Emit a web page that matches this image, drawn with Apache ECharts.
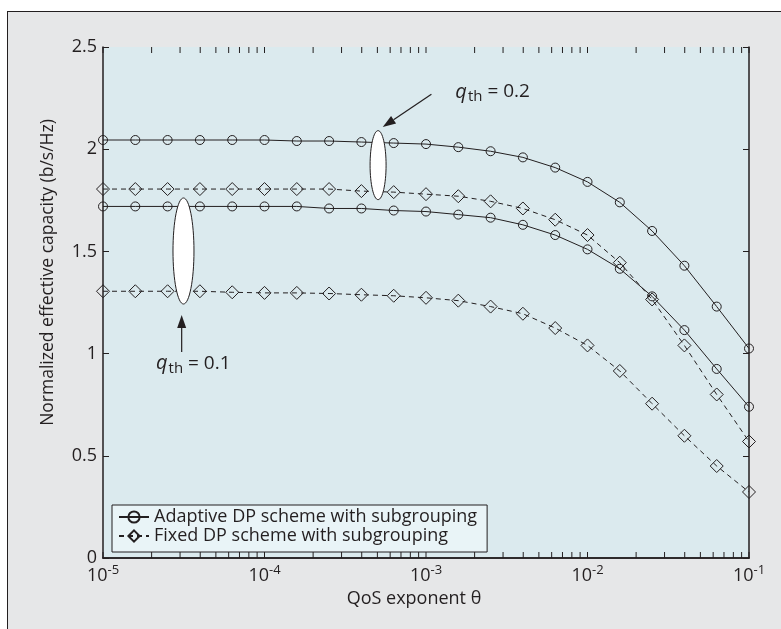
<!DOCTYPE html>
<html>
<head>
<meta charset="utf-8">
<script src="https://cdn.jsdelivr.net/npm/echarts@6/dist/echarts.min.js"></script>
<style>
html, body { margin: 0; padding: 0; background: #fff; }
#frame { position: absolute; left: 7px; top: 11px; width: 800px; height: 640px;
         background: #e6e7e8; border-left: 1px solid #231f20; border-top: 1px solid #231f20; }
#chart { position: absolute; left: 0; top: 0; width: 781px; height: 629px; }
</style>
</head>
<body>
<div id="frame"></div>
<div id="chart"></div>
<script>
// QoS exponent theta, 5 points per decade
var theta = [1e-5, 1.585e-5, 2.512e-5, 3.981e-5, 6.310e-5,
             1e-4, 1.585e-4, 2.512e-4, 3.981e-4, 6.310e-4,
             1e-3, 1.585e-3, 2.512e-3, 3.981e-3, 6.310e-3,
             1e-2, 1.585e-2, 2.512e-2, 3.981e-2, 6.310e-2,
             1e-1];

var adaptive02 = [2.045, 2.045, 2.045, 2.045, 2.045, 2.045, 2.04, 2.04, 2.035, 2.03, 2.025,
                  2.01, 1.99, 1.96, 1.91, 1.84, 1.74, 1.60, 1.43, 1.23, 1.025];
var adaptive01 = [1.72, 1.72, 1.72, 1.72, 1.72, 1.72, 1.72, 1.71, 1.71, 1.70, 1.695,
                  1.68, 1.665, 1.63, 1.58, 1.51, 1.415, 1.28, 1.115, 0.925, 0.74];
var fixed02 = [1.805, 1.805, 1.805, 1.805, 1.805, 1.805, 1.805, 1.805, 1.795, 1.79, 1.78,
               1.77, 1.745, 1.71, 1.655, 1.58, 1.445, 1.265, 1.04, 0.80, 0.57];
var fixed01 = [1.305, 1.305, 1.305, 1.305, 1.30, 1.297, 1.297, 1.294, 1.288, 1.283, 1.273,
               1.259, 1.23, 1.195, 1.125, 1.04, 0.915, 0.755, 0.598, 0.45, 0.323];

var nameAdaptive = 'Adaptive DP scheme with subgrouping';
var nameFixed = 'Fixed DP scheme with subgrouping';

// log tick positions (majors + minors)
var decades = [-5, -4, -3, -2];
var mantissas = [1, 2, 3, 4, 5, 6, 7, 8, 9];
var xTicks = [];
decades.forEach(function (d) {
    mantissas.forEach(function (m) { xTicks.push([m * Math.pow(10, d), 0]); });
});
xTicks.push([0.1, 0]);

var ink = '#231f20';
var font = 'Open Sans';

function pairs(ys) {
    return theta.map(function (x, i) { return [x, ys[i]]; });
}

function lineSeries(name, ys, dashed) {
    return {
        name: name,
        type: 'line',
        data: pairs(ys),
        symbol: dashed ? 'diamond' : 'circle',
        symbolSize: dashed ? 13 : 9,
        showSymbol: true,
        lineStyle: { color: ink, width: 1, type: dashed ? [5, 4] : 'solid' },
        itemStyle: { color: 'rgba(0,0,0,0)', borderColor: ink, borderWidth: 1 },
        emphasis: { disabled: true },
        animation: false,
        z: 3
    };
}

var dom = document.getElementById('chart');
var chart = echarts.init(dom, null, { width: 781, height: 629 });

var option = {
    backgroundColor: 'transparent',
    textStyle: { fontFamily: font, color: ink },
    grid: {
        left: 103, top: 47, right: 32, bottom: 71,
        show: true, backgroundColor: '#dbeaee', borderWidth: 0,
        containLabel: false, outerBoundsMode: 'none'
    },
    legend: {
        data: [nameAdaptive, nameFixed],
        orient: 'vertical',
        left: 112, top: 505,
        itemWidth: 30, itemHeight: 14, itemGap: 1,
        backgroundColor: '#e9f4f7', borderColor: ink, borderWidth: 1, borderRadius: 0,
        padding: [3, 10, 7, 6],
        selectedMode: false,
        textStyle: { fontSize: 18, color: ink, fontFamily: font }
    },
    xAxis: [{
        type: 'log', logBase: 10, min: 1e-5, max: 0.1,
        position: 'bottom',
        axisLine: { lineStyle: { color: ink, width: 1.5 } },
        axisTick: { show: false },
        splitLine: { show: false },
        axisLabel: {
            margin: 6, color: ink, fontSize: 18, fontFamily: font,
            formatter: function (v) {
                return '10{sup|' + Math.round(Math.log10(v)) + '}';
            },
            rich: { sup: { fontSize: 13, fontFamily: font, color: ink, padding: [0, 0, 10, 0] } }
        },
        name: 'QoS exponent \u03b8',
        nameLocation: 'middle', nameGap: 29,
        nameTextStyle: { fontSize: 18, color: ink, fontFamily: font, padding: [0, 24, 0, 0] }
    }, {
        type: 'log', logBase: 10, min: 1e-5, max: 0.1,
        position: 'top',
        axisLine: { lineStyle: { color: ink, width: 1.5 } },
        axisTick: { show: false }, axisLabel: { show: false }, splitLine: { show: false }
    }],
    yAxis: [{
        type: 'value', min: 0, max: 2.5, interval: 0.5,
        axisLine: { show: true, lineStyle: { color: ink, width: 1.5 } },
        axisTick: { show: true, inside: true, length: 6, lineStyle: { color: ink, width: 1 } },
        splitLine: { show: false },
        axisLabel: { margin: 6, color: ink, fontSize: 18, fontFamily: font },
        name: 'Normalized effective capacity (b/s/Hz)',
        nameLocation: 'middle', nameGap: 46,
        nameTextStyle: { fontSize: 17.5, color: ink, fontFamily: font, padding: [0, 0, 0, 60] }
    }, {
        type: 'value', min: 0, max: 2.5, interval: 0.5,
        position: 'right',
        axisLine: { show: true, lineStyle: { color: ink, width: 1.5 } },
        axisTick: { show: true, inside: true, length: 6, lineStyle: { color: ink, width: 1 } },
        axisLabel: { show: false }, splitLine: { show: false }
    }],
    series: [{
        type: 'custom',
        data: xTicks,
        silent: true,
        clip: false,
        animation: false,
        z: 1,
        renderItem: function (params, api) {
            var x = api.value(0);
            var b = api.coord([x, 0]);
            var t = api.coord([x, 2.5]);
            return {
                type: 'group',
                children: [
                    { type: 'line', shape: { x1: b[0], y1: b[1], x2: b[0], y2: b[1] - 6 }, style: { stroke: ink, lineWidth: 1 } },
                    { type: 'line', shape: { x1: t[0], y1: t[1], x2: t[0], y2: t[1] + 6 }, style: { stroke: ink, lineWidth: 1 } }
                ]
            };
        }
    },
        lineSeries(nameAdaptive, adaptive02, false),
        lineSeries(nameFixed, fixed02, true),
        lineSeries(nameAdaptive, adaptive01, false),
        lineSeries(nameFixed, fixed01, true)
    ]
};
chart.setOption(option);

// annotations, anchored in data coordinates
var ellipses = [
    { at: [5.05e-4, 1.922], rx: 8, ry: 34.5 },
    { at: [3.15e-5, 1.502], rx: 10.5, ry: 53 }
];
var arrows = [
    { from: [1.08e-3, 2.269], to: [5.4e-4, 2.109] },
    { from: [3.07e-5, 1.008], to: [3.07e-5, 1.189] }
];
var notes = [
    { at: [1.52e-3, 2.28], text: '0.2' },
    { at: [2.13e-5, 0.952], text: '0.1' }
];

function px(p) { return chart.convertToPixel({ xAxisIndex: 0, yAxisIndex: 0 }, p); }

var graphics = [];
ellipses.forEach(function (e) {
    var c = px(e.at);
    graphics.push({
        type: 'ellipse', z: 100,
        shape: { cx: c[0], cy: c[1], rx: e.rx, ry: e.ry },
        style: { fill: '#fff', stroke: ink, lineWidth: 1 }
    });
});
arrows.forEach(function (a) {
    var s = px(a.from), t = px(a.to);
    var dx = t[0] - s[0], dy = t[1] - s[1];
    var len = Math.sqrt(dx * dx + dy * dy);
    var ux = dx / len, uy = dy / len;
    var hl = 13, hw = 4.5;
    var bx = t[0] - ux * hl, by = t[1] - uy * hl;
    graphics.push({
        type: 'line', z: 100,
        shape: { x1: s[0], y1: s[1], x2: bx, y2: by },
        style: { stroke: ink, lineWidth: 1.2 }
    });
    graphics.push({
        type: 'polygon', z: 100,
        shape: { points: [[t[0], t[1]], [bx - uy * hw, by + ux * hw], [bx + uy * hw, by - ux * hw]] },
        style: { fill: ink }
    });
});
notes.forEach(function (n) {
    var c = px(n.at);
    graphics.push({
        type: 'text', z: 100,
        x: c[0], y: c[1],
        style: {
            text: '{q|q}{s|th}{t| = ' + n.text + '}',
            verticalAlign: 'middle', align: 'left',
            rich: {
                q: { fontSize: 20, fontStyle: 'italic', fontFamily: font, fill: ink },
                s: { fontSize: 15, fontFamily: font, fill: ink, padding: [10, 0, 0, 1] },
                t: { fontSize: 19, fontFamily: font, fill: ink }
            }
        }
    });
});
chart.setOption({ graphic: graphics });
</script>
</body>
</html>
